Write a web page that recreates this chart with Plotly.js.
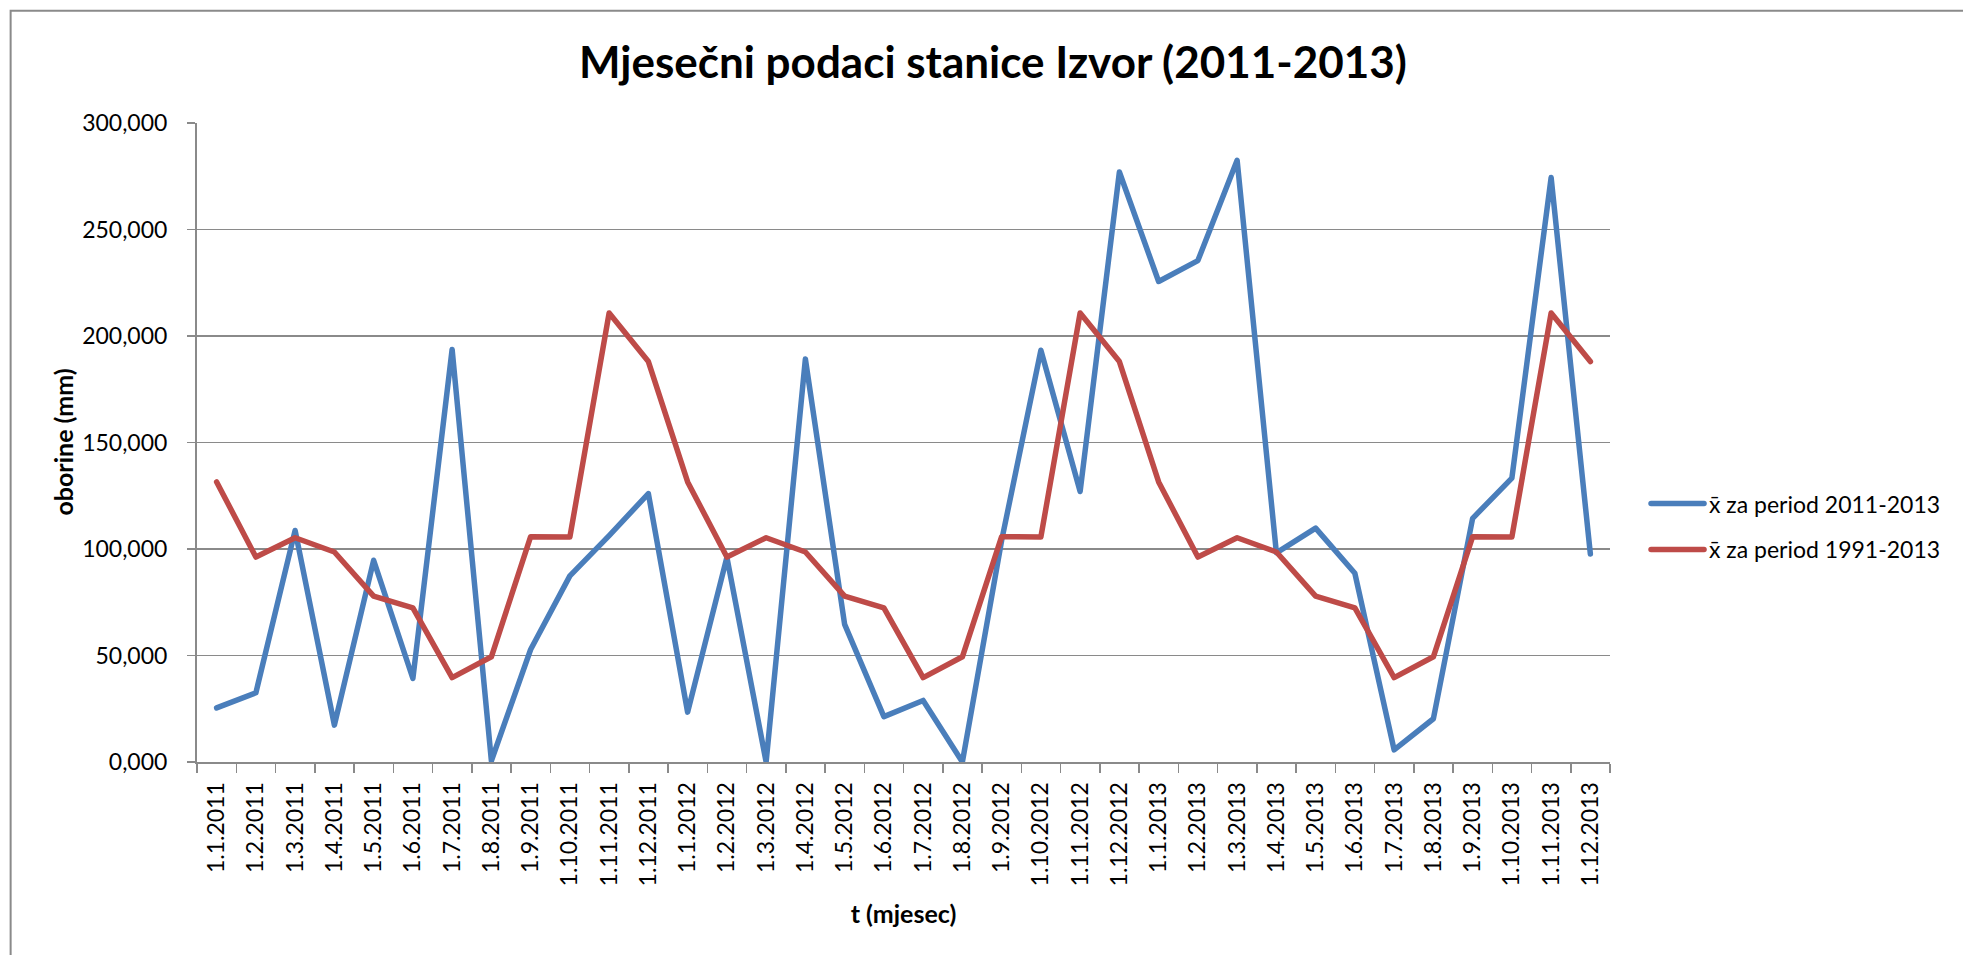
<!DOCTYPE html>
<html>
<head>
<meta charset="utf-8">
<script src="https://cdn.plot.ly/plotly-3.0.1.min.js"></script>
<style>
  html, body { margin: 0; padding: 0; background: #fff; }
  #chart { width: 1963px; height: 955px; }
  .scatterlayer path.js-line, .legendlines path { stroke-linejoin: round; stroke-linecap: round; }
</style>
</head>
<body>
<div id="chart"></div>
<script>
const months = ["1.1.2011","1.2.2011","1.3.2011","1.4.2011","1.5.2011","1.6.2011","1.7.2011","1.8.2011","1.9.2011","1.10.2011","1.11.2011","1.12.2011",
                "1.1.2012","1.2.2012","1.3.2012","1.4.2012","1.5.2012","1.6.2012","1.7.2012","1.8.2012","1.9.2012","1.10.2012","1.11.2012","1.12.2012",
                "1.1.2013","1.2.2013","1.3.2013","1.4.2013","1.5.2013","1.6.2013","1.7.2013","1.8.2013","1.9.2013","1.10.2013","1.11.2013","1.12.2013"];

const mean2011_2013 = [25.4, 32.5, 108.7, 17.3, 94.7, 39.2, 193.7, 0.6, 52.8, 87.4, 106.3, 126.0,
                       23.4, 96.1, 0.0, 189.2, 64.6, 21.3, 28.9, 0.0, 104.0, 193.3, 127.0, 277.0,
                       225.6, 235.4, 282.5, 98.2, 109.8, 88.6, 5.7, 20.3, 114.4, 133.3, 274.4, 97.6];

const mean1991_2013 = [131.5, 96.2, 105.3, 98.6, 77.9, 72.4, 39.6, 49.4, 105.8, 105.6, 210.8, 188.0,
                       131.5, 96.2, 105.3, 98.6, 77.9, 72.4, 39.6, 49.4, 105.8, 105.6, 210.8, 188.0,
                       131.5, 96.2, 105.3, 98.6, 77.9, 72.4, 39.6, 49.4, 105.8, 105.6, 210.8, 188.0];

const seriesNames = ["x\u0304 za period 2011-2013", "x\u0304 za period 1991-2013"];
const yTicks = [0, 50, 100, 150, 200, 250, 300];

const gray = "#8a8a8a";
const FONT = "Lato, 'Open Sans', sans-serif";

const traces = [
  { x: months, y: mean2011_2013, name: seriesNames[0], type: "scatter", mode: "lines",
    legendgroup: "a", line: { color: "#4a7ebb", width: 5.5 } },
  { x: months, y: mean1991_2013, name: seriesNames[1], type: "scatter", mode: "lines",
    legendgroup: "b", line: { color: "#be4b48", width: 5.5 } }
];

const layout = {
  width: 1963, height: 955,
  margin: { l: 196.5, r: 353, t: 122.5, b: 192.5, autoexpand: false },
  paper_bgcolor: "#ffffff", plot_bgcolor: "#ffffff",
  separators: ", ",
  font: { family: FONT, size: 23, color: "#000" },
  title: {
    text: "<b>Mjesečni podaci stanice Izvor (2011-2013)</b>",
    font: { family: FONT, size: 44, color: "#000" },
    x: 0.5058, xanchor: "center", y: 0.9343, yanchor: "middle"
  },
  xaxis: {
    type: "category", range: [-0.5, 35.5], tickangle: -90,
    tickson: "boundaries", ticks: "outside", ticklen: 9, tickwidth: 1.5, tickcolor: gray,
    showline: true, linecolor: gray, linewidth: 2, showgrid: false, zeroline: false,
    ticklabelstandoff: 9,
    tickfont: { family: FONT, size: 23, color: "#000" },
    title: { text: "<b>t (mjesec)</b>", font: { family: FONT, size: 25, color: "#000" }, standoff: 20 },
    automargin: false
  },
  yaxis: {
    range: [0, 300], tickvals: yTicks, tickformat: ".3f",
    ticks: "outside", ticklen: 8, tickwidth: 1.5, tickcolor: gray,
    showline: true, linecolor: gray, linewidth: 2,
    showgrid: true, gridcolor: gray, gridwidth: 1.5, zeroline: false,
    ticklabelstandoff: 15,
    tickfont: { family: FONT, size: 23, color: "#000" },
    automargin: false
  },
  annotations: [
    { text: "<b>oborine (mm)</b>", xref: "paper", yref: "paper", x: -0.0955, y: 0.5,
      xanchor: "center", yanchor: "middle", textangle: -90, showarrow: false,
      font: { family: FONT, size: 25, color: "#000" } }
  ],
  showlegend: true,
  legend: {
    x: 1.0255, xanchor: "left", y: 0.3684, yanchor: "middle",
    font: { family: FONT, size: 23, color: "#000" },
    bgcolor: "rgba(0,0,0,0)", tracegroupgap: 13, itemwidth: 53
  },
  shapes: [
    { type: "rect", xref: "paper", yref: "paper",
      x0: -0.1319, y0: -1.0, x1: 2.0, y1: 1.1758,
      line: { color: gray, width: 2 }, fillcolor: "rgba(0,0,0,0)", layer: "below" }
  ]
};

function stretchLegendLines() {
  document.querySelectorAll("#chart .legendlines path").forEach(function (p) {
    p.setAttribute("d", "M5,0h53");
  });
}

const gd = document.getElementById("chart");
Plotly.newPlot(gd, traces, layout, { staticPlot: true, displayModeBar: false }).then(function () {
  stretchLegendLines();
  gd.on && gd.on("plotly_afterplot", stretchLegendLines);
  setTimeout(stretchLegendLines, 50);
  setTimeout(stretchLegendLines, 300);
});
</script>
</body>
</html>
